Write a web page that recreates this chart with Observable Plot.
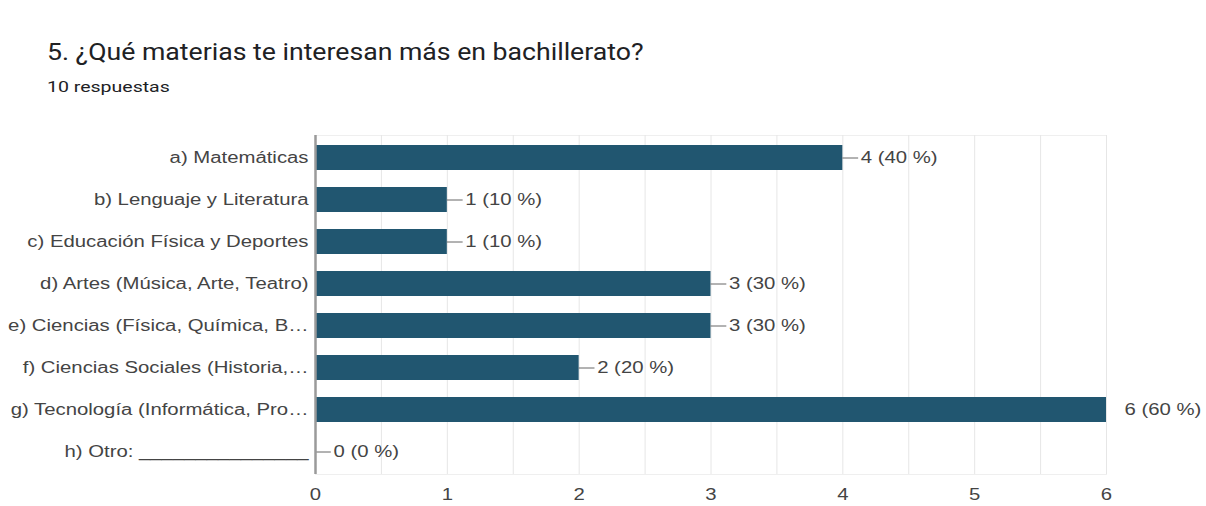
<!DOCTYPE html>
<html><head><meta charset="utf-8">
<script src="https://cdn.jsdelivr.net/npm/d3@7"></script>
<script src="https://cdn.jsdelivr.net/npm/@observablehq/plot@0.6"></script>
<style>
body{margin:0;background:#fff;width:1206px;height:506px;overflow:hidden;font-family:Roboto,"Liberation Sans",sans-serif;}
#title{position:absolute;left:47px;top:38px;font-size:24px;color:#202124;white-space:nowrap;transform:scaleX(1.11);transform-origin:left center;}
#sub{position:absolute;left:47px;top:78px;font-size:15px;color:#202124;white-space:nowrap;transform:scaleX(1.3);transform-origin:left center;}
#chart{position:absolute;left:0;top:110px;}
</style></head><body>
<div id="title">5. ¿Qué materias te interesan más en bachillerato?</div>
<div id="sub">10 respuestas</div>
<div id="chart"></div>
<script>
const categories = [
  "a) Matemáticas",
  "b) Lenguaje y Literatura",
  "c) Educación Física y Deportes",
  "d) Artes (Música, Arte, Teatro)",
  "e) Ciencias (Física, Química, B…",
  "f) Ciencias Sociales (Historia,…",
  "g) Tecnología (Informática, Pro…",
  "h) Otro: _______________"
];
const counts = [4, 1, 1, 3, 3, 2, 6, 0];
const percents = [40, 10, 10, 30, 30, 20, 60, 0];
const xTicks = [0, 1, 2, 3, 4, 5, 6];

const data = categories.map((c, i) => ({label: c, value: counts[i], pct: percents[i]}));
const maxV = d3.max(counts);
const labelText = d => `${d.value} (${d.pct} %)`;

const chart = Plot.plot({
  width: 1206, height: 396,
  marginLeft: 315, marginRight: 100, marginTop: 25, marginBottom: 32,
  style: {fontFamily: '"Liberation Sans", Arial, sans-serif', fontSize: "16px", color: "#444", background: "#fff"},
  x: {domain: [0, maxV], ticks: xTicks, tickSize: 0, tickPadding: 14, label: null, tickFormat: d => String(d)},
  y: {domain: categories, paddingInner: 0.394, paddingOuter: 0.197, tickSize: 0, tickPadding: 7, label: null},
  marks: [
    Plot.frame({stroke: "#efefef"}),
    Plot.gridX(d3.ticks(0, maxV, 12), {stroke: "#e6e6e6", strokeOpacity: 1}),
    Plot.barX(data, {x: "value", y: "label", fill: "#215670"}),
    Plot.ruleY(data.filter(d => d.value < maxV), {y: "label", x1: "value", x2: d => d.value + 0.12, stroke: "#666", strokeWidth: 1}),
    Plot.text(data.filter(d => d.value < maxV), {x: "value", y: "label", text: labelText, textAnchor: "start", dx: 18, fill: "#444", fontSize: 16}),
    Plot.text(data.filter(d => d.value === maxV), {x: "value", y: "label", text: labelText, textAnchor: "start", dx: 18, fill: "#444", fontSize: 16}),
    Plot.ruleX([0], {stroke: "#9a9a9a", strokeWidth: 2.5})
  ]
});
document.getElementById("chart").appendChild(chart);
// the reference screenshot is horizontally stretched: widen the glyphs the same way
chart.querySelectorAll("text").forEach(t => {
  const L = t.getComputedTextLength();
  if (L > 0) {
    t.setAttribute("textLength", (L * 1.27).toFixed(1));
    t.setAttribute("lengthAdjust", "spacingAndGlyphs");
  }
});
</script>
</body></html>
